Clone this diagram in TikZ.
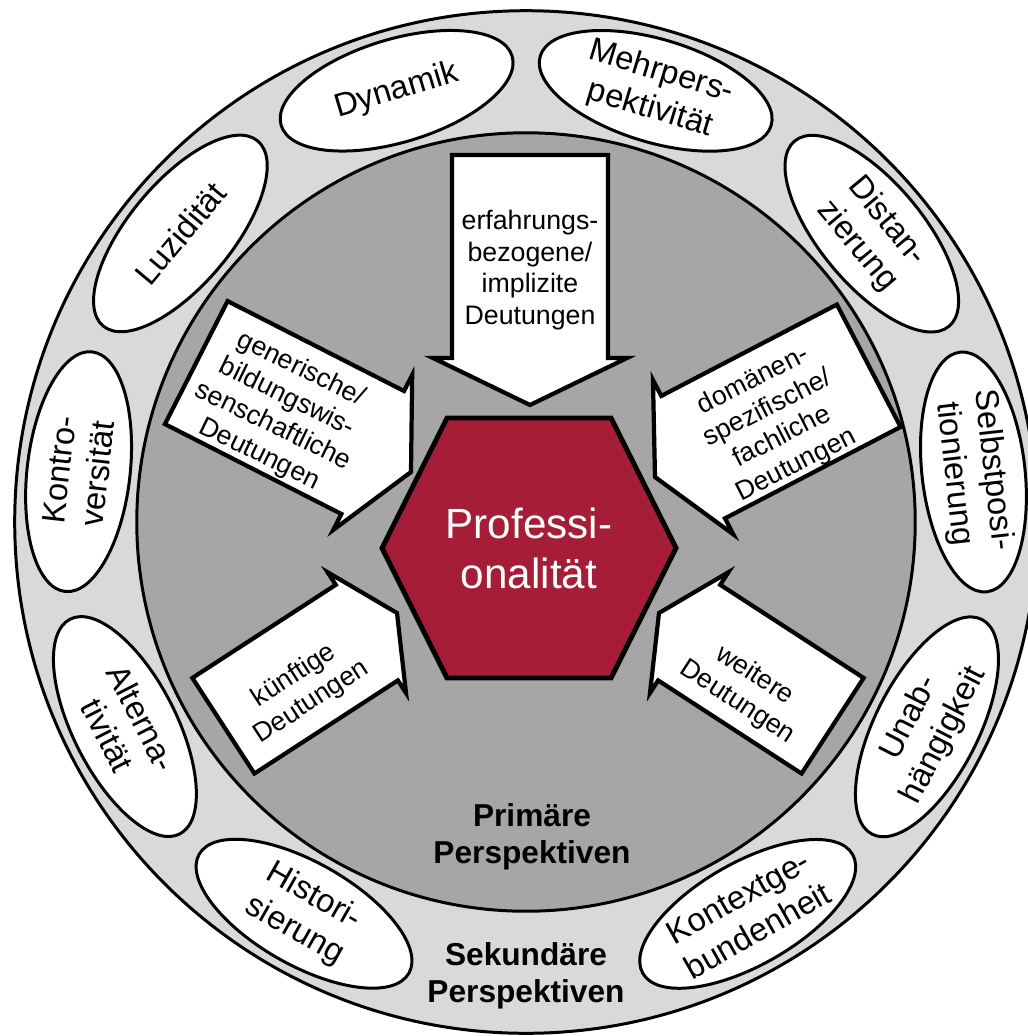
\documentclass[tikz,border=0pt]{standalone}
\usepackage{fontspec}
\setmainfont{Liberation Sans}
\usetikzlibrary{shapes.geometric}
\definecolor{ringgrau}{RGB}{217,217,217}
\definecolor{innengrau}{RGB}{166,166,166}
\definecolor{profrot}{RGB}{165,29,55}
\tikzset{
  oval/.style={ellipse, draw, fill=white, line width=0.85pt, minimum width=2.41cm, minimum height=1.03cm, inner sep=0pt},
  ovaltext/.style={align=center, inner sep=0pt, font=\fontsize{9.3}{11}\selectfont},
  pfeil/.style={draw, fill=white, line width=1.2pt},
  pfeiltext/.style={align=center, inner sep=0pt, font=\fontsize{7.6}{9}\selectfont},
  fetttext/.style={align=center, inner sep=0pt, font=\fontsize{9}{10.6}\selectfont\bfseries},
  pics/deutpfeil/.style n args={4}{code={
    \draw[pfeil] (-#1,#2) -- (-#4,#2) -- (-#4,#3) -- (0,0) -- (-#4,-#3) -- (-#4,-#2) -- (-#1,-#2) -- cycle;
  }}
}
\begin{document}
\begin{tikzpicture}[x=0.01cm, y=-0.01cm]
\useasboundingbox (0,0) rectangle (1028,1036);
\clip (0,0) rectangle (1028,1036);
\coordinate (c) at (526,522);
% Ring der sekundaeren Perspektiven
\draw[line width=0.85pt, fill=ringgrau] (c) circle[radius=5.11cm];
\foreach \a/\r/\t [count=\i] in {-60.5/29.5/{Kontextge-\\bundenheit}, -27.06/62.94/{Unab-\\hängigkeit},
    6.38/-83.62/{Selbstposi-\\tionierung}, 39.82/-50.18/{Distan-\\zierung}, 73.26/-16.74/{Mehrpers-\\pektivität},
    106.7/16.7/{Dynamik}, 140.14/50.14/{Luzidität}, 173.58/83.58/{Kontro-\\versität},
    207.02/-62.98/{Alterna-\\tivität}, 240.46/-29.54/{Histori-\\sierung}}
{
  \node[oval, rotate=\r] (e\i) at ([shift={(\a:4.5cm)}]c) {};
  \node[ovaltext, rotate=\r] (t\i) at (e\i.center) {\t};
}
% Kreis der primaeren Perspektiven
\draw[line width=0.85pt, fill=innengrau] (c) circle[radius=3.89cm];
\pic[rotate=-90] at (530,405) {deutpfeil={250}{78}{97}{47}};
\pic[rotate=-27] at (411,472) {deutpfeil={241}{69}{87}{43}};
\pic[rotate=207.5] at (655,477) {deutpfeil={241}{69}{87}{43}};
\pic[rotate=33] at (397,613) {deutpfeil={207}{57}{72}{36}};
\pic[rotate=147] at (659,613) {deutpfeil={207}{57}{72}{36}};
\node[pfeiltext] (erf) at (530,270) {erfahrungs-\\bezogene/\\implizite\\Deutungen};
\node[pfeiltext, rotate=-26] (gen) at (280,412) {generische/\\bildungswis-\\senschaftliche\\Deutungen};
\node[pfeiltext, rotate=27] (dom) at (775,423) {domänen-\\spezifische/\\fachliche\\Deutungen};
\node[pfeiltext, rotate=33] (kuenf) at (303,689) {künftige\\Deutungen};
\node[pfeiltext, rotate=-33] (weit) at (746,689) {weitere\\Deutungen};
% Sechseck
\draw[line width=1.4pt, fill=profrot] (382,548) -- (447,418) -- (611,418) -- (676,548) -- (611,678) -- (447,678) -- cycle;
\node[align=center, inner sep=0pt, text=white, font=\fontsize{12}{14.2}\selectfont] (prof) at (529,548) {Professi-\\onalität};
\node[fetttext] (prim) at (532,837) {Primäre\\Perspektiven};
\node[fetttext] (sek) at (526,976) {Sekundäre\\Perspektiven};
\end{tikzpicture}
\end{document}
